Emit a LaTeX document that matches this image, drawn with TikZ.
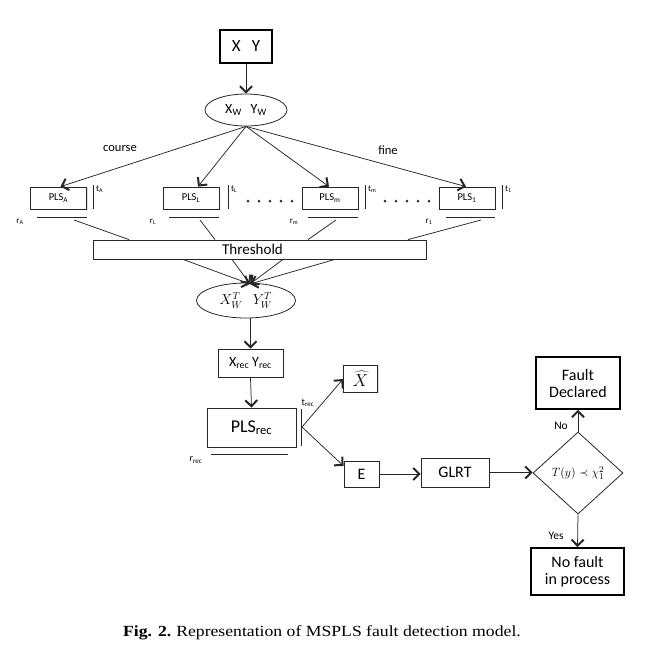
\documentclass[tikz,border=0pt]{standalone}
\usepackage{fontspec}
\setmainfont{Carlito}
\newfontfamily\capfont[FakeStretch=1.14]{Liberation Serif}
\usetikzlibrary{shapes.geometric,arrows.meta,calc,shadows}
\newcommand{\fsz}[1]{\fontsize{#1}{#1}\selectfont}
\begin{document}
\begin{tikzpicture}[x=1pt,y=-1pt,
  ln/.style={line width=0.75pt, draw=black!85},
  arr/.style={ln, -{Straight Barb[length=6pt,width=12pt,line width=2pt]}},
  sbox/.style={draw=black!85, line width=0.8pt, inner sep=0pt, fill=white,
     drop shadow={shadow xshift=1.2pt, shadow yshift=-1.2pt, opacity=0.25}},
  tbox/.style={draw=black, line width=1.8pt, inner sep=0pt, fill=white, align=center},
  plsbox/.style={sbox, minimum width=56pt, minimum height=22pt, font=\fsz{10.5}},
  small/.style={font=\fsz{9}, inner sep=0pt},
  lab/.style={font=\fsz{12.5}, inner sep=0pt},
  dotc/.style={fill=black!80, draw=none}
]
\useasboundingbox (0,0) rectangle (657,651);

% top
\node[tbox, minimum width=52pt, minimum height=33pt, font=\fsz{17}] (xy) at (246,46.5) {X\hspace{11pt}Y};
\node[ellipse, draw=black!85, line width=0.8pt, minimum width=82pt, minimum height=32pt, inner sep=0pt, font=\fsz{14}] (ew) at (246,110) {X\textsubscript{W}\hspace{9pt}Y\textsubscript{W}};
\draw[arr] (xy.south) -- (ew.north);

% PLS boxes
\node[plsbox] (pA) at (58.5,198) {PLS\textsubscript{A}};
\node[plsbox] (pL) at (191,198) {PLS\textsubscript{L}};
\node[plsbox] (pm) at (330,198) {PLS\textsubscript{m}};
\node[plsbox] (p1) at (467,198) {PLS\textsubscript{1}};

\draw[arr] (ew.south) -- ($(pA.north)+(2,0)$);
\draw[arr] (ew.south) -- ($(pL.north)+(7,0)$);
\draw[arr] (ew.south) -- ($(pm.north)+(-1,0)$);
\draw[arr] (ew.south) -- ($(p1.north)+(-1,0)$);
\node[lab] (course) at (120,149) {course};
\node[lab] (fine) at (388,150) {fine};

% bars, t labels, underlines, r labels
\draw[ln] (93,185) -- (93,209);
\draw[ln] (228,185) -- (228,209);
\draw[ln] (365,185) -- (365,209);
\draw[ln] (502,185) -- (502,209);
\node[small, anchor=west] (tA) at (96,189) {t\textsubscript{A}};
\node[small, anchor=west] (tL) at (231,189) {t\textsubscript{L}};
\node[small, anchor=west] (tm) at (368,189) {t\textsubscript{m}};
\node[small, anchor=west] (t1) at (505,189) {t\textsubscript{1}};

\draw[ln] (37,217) -- (87,217);
\draw[ln] (169,217) -- (219,217);
\draw[ln] (308,217) -- (358,217);
\draw[ln] (446,217) -- (495,217);
\node[small] (rA) at (20,222) {r\textsubscript{A}};
\node[small] (rL) at (153,222) {r\textsubscript{L}};
\node[small] (rm) at (294,222) {r\textsubscript{m}};
\node[small] (r1) at (429,222) {r\textsubscript{1}};

% dots
\foreach \x in {248,259,270,281,292} \fill[dotc] (\x,201) circle (1.5);
\foreach \x in {385,396,407,418,429} \fill[dotc] (\x,201) circle (1.5);

% threshold
\node[sbox, minimum width=333pt, minimum height=19pt, font=\fsz{15}] (th) at (259.5,249.5) {\hspace{-14pt}Threshold};
\coordinate (uA) at (74,220);
\coordinate (uL) at (200,220);
\coordinate (um) at (336,220);
\coordinate (u1) at (481,220);
\draw[ln] (uA) -- (th.north -| 129,0);
\draw[ln] (uL) -- (th.north -| 215,0);
\draw[ln] (um) -- (th.north -| 308,0);
\draw[ln] (u1) -- (th.north -| 408,0);

% lower ellipse
\node[ellipse, draw=black!85, line width=0.8pt, minimum width=99pt, minimum height=35pt, inner sep=0pt, font=\fsz{14.5}] (ew2) at (246,300.5) {$X_W^T$\hspace{10pt}$Y_W^T$};
\coordinate (cv) at (250,284);
\draw[arr] (th.south -| 183,0) -- (cv);
\draw[arr] (th.south -| 232,0) -- (cv);
\draw[arr] (th.south -| 283,0) -- (cv);
\draw[arr] (th.south -| 335,0) -- (cv);

% rec
\node[sbox, minimum width=65pt, minimum height=28pt, font=\fsz{14}] (xr) at (250.5,363) {X\textsubscript{rec}\hspace{3pt}Y\textsubscript{rec}};
\draw[arr] (ew2.south -| xr.north) -- (xr.north);
\node[sbox, minimum width=89pt, minimum height=39pt, font=\fsz{18}] (pr) at (251.5,427.5) {PLS\textsubscript{rec}};
\draw[arr] (xr.south) -- (pr.north);
\draw[ln] (301,409) -- (301,446);
\coordinate (sp) at (302,427);
\node[small, font=\fsz{10}] (trec) at (308,403) {t\textsubscript{rec}};
\draw[ln] (211,454) -- (288,454);
\node[small, font=\fsz{10}] (rrec) at (196,460) {r\textsubscript{rec}};

\node[sbox, minimum width=34pt, minimum height=27pt, font=\fsz{18}] (xh) at (360.5,378.5) {$\widehat{X}$};
\node[sbox, minimum width=35pt, minimum height=26pt, font=\fsz{16}] (e) at (361.5,474) {E};
\draw[arr] (sp) -- (xh.west |- 0,379);
\draw[arr] (sp) -- (e.west |- 0,466);

\node[sbox, minimum width=68pt, minimum height=29pt, font=\fsz{16}] (gl) at (455,472.5) {GLRT};
\draw[arr] (e.east) -- (gl.west |- e.east);

\node[diamond, draw=black!85, line width=0.8pt, minimum width=90pt, minimum height=82pt, inner sep=0pt, font=\fsz{12.5}] (dm) at (578,473) {$T(y)\prec\chi_1^2$};
\draw[arr] (gl.east) -- (dm.west |- gl.east);

\node[tbox, minimum width=84pt, minimum height=52pt, font=\fsz{16}] (fd) at (578,383) {Fault\\[1pt]Declared};
\node[tbox, minimum width=93pt, minimum height=47pt, font=\fsz{16}] (nf) at (577.5,571.5) {No fault\\[1pt]in process};
\draw[arr] (dm.north) -- (fd.south);
\draw[arr] (dm.south) -- (nf.north);
\node[lab, font=\fsz{11.5}] (no) at (561,426) {No};
\node[lab, font=\fsz{11.5}] (yes) at (556,536) {Yes};

% caption
\node[inner sep=0pt, font=\capfont\fsz{15.5}] (cap) at (322,633) {\textbf{Fig. 2.}\hspace{5pt}Representation of MSPLS fault detection model.};
\end{tikzpicture}
\end{document}
